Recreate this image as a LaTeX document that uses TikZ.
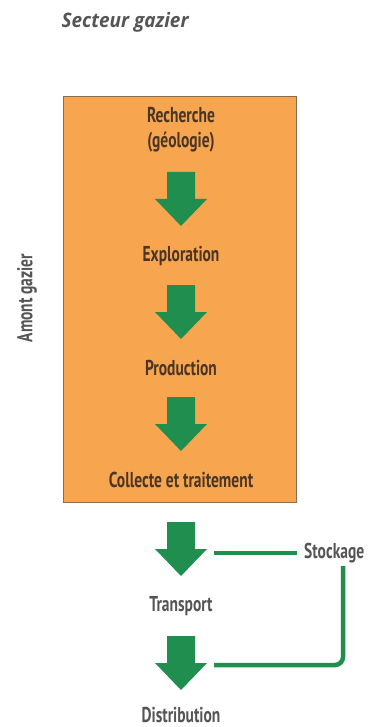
\documentclass[tikz,border=0pt]{standalone}
\usepackage{fontspec}
\setmainfont{PT Sans}[FakeStretch=0.72]
\newfontfamily\titlefont{Open Sans}[FakeStretch=0.95]
\usetikzlibrary{calc}
\definecolor{boxorange}{HTML}{F8A54F}
\definecolor{boxborder}{HTML}{8A6B4E}
\definecolor{flowgreen}{HTML}{1F8E4F}
\definecolor{intext}{HTML}{4A3626}
\definecolor{outtext}{HTML}{555555}
\tikzset{
  stage/.style={font=\bfseries\fontsize{21.5}{25}\selectfont, text=intext, align=center, inner sep=1pt},
  outstage/.style={font=\bfseries\fontsize{21.5}{25}\selectfont, text=outtext, align=center, inner sep=1pt},
  link/.style={draw=flowgreen, line width=4.5pt},
  pics/downarrow/.style={code={
    \fill[flowgreen] (-14,0) -- (14,0) -- (14,27) -- (26,27) -- (0,54) -- (-26,27) -- (-14,27) -- cycle;
  }}
}
\begin{document}
\begin{tikzpicture}[x=1pt,y=-1pt]
\useasboundingbox (0,0) rectangle (383,727);
\node[font=\titlefont\bfseries\itshape\fontsize{20}{24}\selectfont, text=outtext, anchor=west] (title) at (58,22) {Secteur gazier};
\node[draw=boxborder, line width=1.2pt, fill=boxorange, minimum width=233pt, minimum height=406pt, anchor=north west, inner sep=0pt] (box) at (63,96) {};
\node[stage] (rech) at (181,130) {Recherche\\(géologie)};
\pic at (181,172) {downarrow};
\node[stage] (expl) at (181,256) {Exploration};
\pic at (181,285) {downarrow};
\node[stage] (prod) at (181,368) {Production};
\pic at (181,397) {downarrow};
\node[stage] (coll) at (181,480) {Collecte et traitement};
\pic at (181,522) {downarrow};
\coordinate (tr) at (214,553);
\node[outstage] (trans) at (181,606) {Transport};
\pic at (181,636) {downarrow};
\coordinate (di) at (214,665);
\node[outstage] (dist) at (181,715) {Distribution};
\node[outstage, anchor=west] (stock) at (303,553) {Stockage};
\node[outstage, rotate=90] (amont) at (27,298) {Amont gazier};
\draw[link] (tr) -- (stock.west -| 297,0);
\draw[link, rounded corners=8pt] (343,566) -- (343,665) -- (di);
\end{tikzpicture}
\end{document}
